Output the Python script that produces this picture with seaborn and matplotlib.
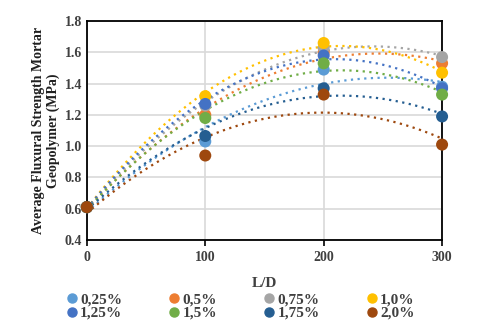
import numpy as np
import pandas as pd
import seaborn as sns
import matplotlib.pyplot as plt
from matplotlib.lines import Line2D

ld = [0, 100, 200, 300]
labels = ["0,25%", "0,5%", "0,75%", "1,0%", "1,25%", "1,5%", "1,75%", "2,0%"]
s025 = [0.61, 1.03, 1.49, 1.38]
s050 = [0.61, 1.20, 1.60, 1.53]
s075 = [0.61, 1.26, 1.63, 1.57]
s100 = [0.61, 1.32, 1.66, 1.47]
s125 = [0.61, 1.27, 1.58, 1.37]
s150 = [0.61, 1.18, 1.53, 1.33]
s175 = [0.61, 1.065, 1.37, 1.19]
s200 = [0.61, 0.94, 1.33, 1.01]
series = [s025, s050, s075, s100, s125, s150, s175, s200]
colors = ["#5B9BD5", "#ED7D31", "#A5A5A5", "#FFC000",
          "#4472C4", "#70AD47", "#255E91", "#9E480E"]

sns.set_style("white")
plt.rcParams['font.family'] = ['Liberation Serif', 'DejaVu Serif']
plt.rcParams['font.weight'] = 'bold'

fig = plt.figure(figsize=(4.8, 3.3), dpi=100)
ax = fig.add_axes([0.181, 0.273, 0.74, 0.663])

# dotted 2nd order trendlines (as in Excel)
for lab, vals, c in zip(labels, series, colors):
    df = pd.DataFrame({"LD": ld, "val": vals})
    sns.regplot(data=df, x="LD", y="val", order=2, ci=None, scatter=False,
                truncate=True, ax=ax,
                line_kws={"color": c, "linestyle": (0, (1, 2)), "linewidth": 1.6})
for lab, vals, c in zip(labels, series, colors):
    df = pd.DataFrame({"LD": ld, "val": vals})
    sns.scatterplot(data=df, x="LD", y="val", color=c, s=75, edgecolor="none",
                    ax=ax, clip_on=False, zorder=5)

ax.set_xlim(0, 300)
ax.set_ylim(0.4, 1.8)
ax.set_xticks([0, 100, 200, 300])
ax.set_yticks(np.arange(0.4, 1.81, 0.2))
ax.set_yticklabels([f"{v:.1f}" for v in np.arange(0.4, 1.81, 0.2)])
ax.grid(True, color="#d9d9d9", linewidth=1.2)
ax.set_axisbelow(True)
for sp in ax.spines.values():
    sp.set_color("black")
    sp.set_linewidth(1.3)
ax.tick_params(axis="x", direction="out", length=4, width=1.2, bottom=True,
               labelsize=10, pad=4, colors="black", labelcolor="#404040")
ax.tick_params(axis="y", length=0, labelsize=10, labelcolor="#404040")
ax.set_xlabel("L/D", fontsize=11, fontweight="bold", color="#404040", labelpad=9)
ax.set_ylabel("Average Fluxural Strength Mortar\nGeopolymer (MPa)", fontsize=10,
              fontweight="bold", color="#202020", labelpad=3)

handles = [Line2D([], [], marker="o", linestyle="none", color=c, markersize=6.5,
                  label=l) for l, c in zip(labels, colors)]
order = [0, 4, 1, 5, 2, 6, 3, 7]
fig.legend(handles=[handles[i] for i in order], loc="lower center",
           bbox_to_anchor=(0.5, 0.012), ncol=4, frameon=False, fontsize=11,
           handlelength=0.8, handletextpad=0.15, columnspacing=3.0,
           labelspacing=0.0, borderaxespad=0, labelcolor="#404040")

fig.savefig("out.png", dpi=100)
